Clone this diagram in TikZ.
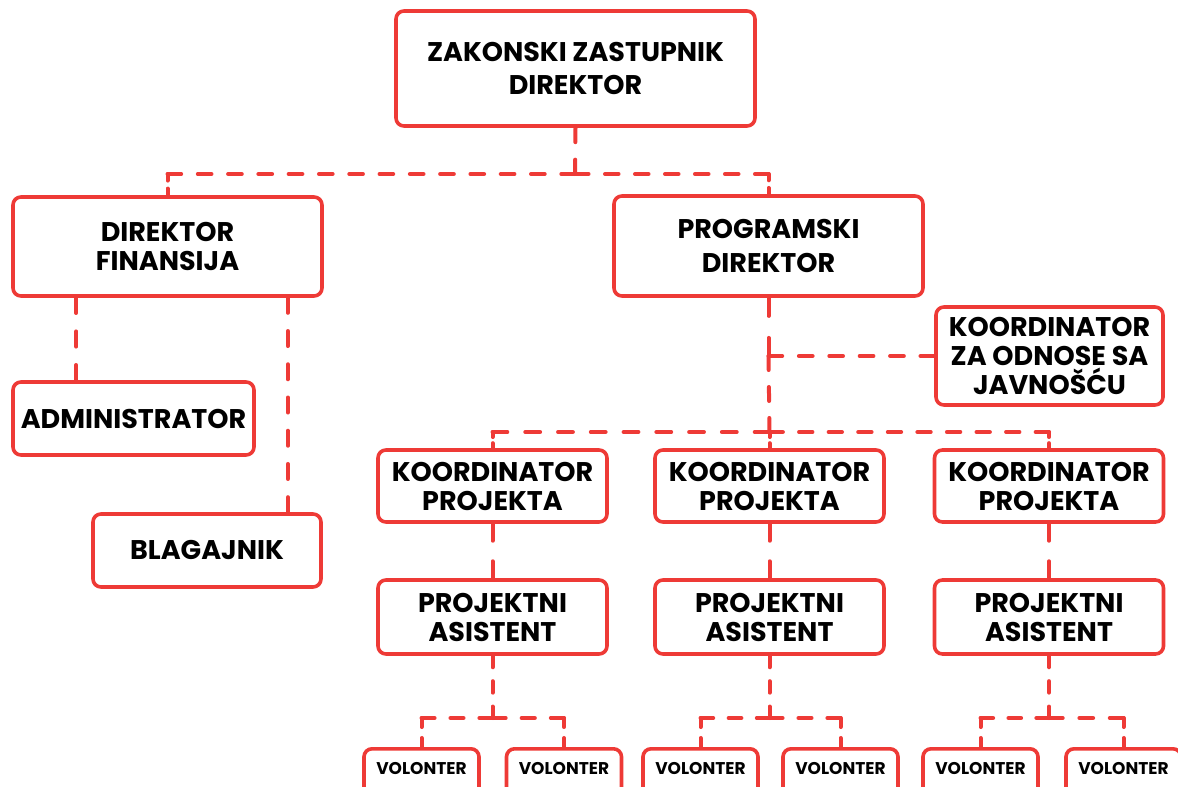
\documentclass[tikz,border=0pt]{standalone}
\usepackage{fontspec}
\setmainfont{Poppins}
\usetikzlibrary{calc}
\definecolor{orgred}{RGB}{238,58,54}
\newcommand\cseg[2]{%
  \draw[conn] let \p1=($(#2)-(#1)$), \n1={veclen(\x1,\y1)},
    \n2={max(2,round((\n1+17)/31))},
    \n3={\n1/(\n2+(\n2-1)*17/14)}, \n4={\n3*17/14}
    in [dash pattern=on \n3 off \n4] (#1) -- (#2);}
\begin{document}
\begin{tikzpicture}[x=1pt,y=-1pt,
  box/.style={draw=orgred,line width=3.6pt,rounded corners=8pt,inner sep=0pt,align=center,
    font=\fontsize{27}{29}\selectfont\bfseries,text=black},
  volbox/.style={draw=orgred,line width=3.6pt,rounded corners=8pt,inner sep=0pt,anchor=north,
    minimum width=115pt,text height=26pt,text depth=50pt,font=\fontsize{17}{19}\selectfont\bfseries,text=black},
  conn/.style={draw=orgred,line width=4pt,line cap=round,line join=round}]
\useasboundingbox (0,0) rectangle (1178,787);
\clip (0,0) rectangle (1178,787);
% boxes
\node[box,minimum width=359pt,minimum height=115pt,font=\fontsize{27}{33}\selectfont\bfseries] (top) at (575.5,68.5) {ZAKONSKI ZASTUPNIK\\DIREKTOR};
\node[box,minimum width=309pt,minimum height=99pt] (dfin) at (167.5,246.5) {DIREKTOR\\FINANSIJA};
\node[box,minimum width=241pt,minimum height=73pt] (admin) at (133.5,418.5) {ADMINISTRATOR};
\node[box,minimum width=228pt,minimum height=73pt] (blag) at (207,550.5) {BLAGAJNIK};
\node[box,minimum width=309pt,minimum height=100pt,font=\fontsize{27}{34}\selectfont\bfseries] (prog) at (768.5,246) {PROGRAMSKI\\DIREKTOR};
\node[box,minimum width=227pt,minimum height=98pt] (kjav) at (1049.5,356) {KOORDINATOR\\ZA ODNOSE SA\\JAVNOŠĆU};
\node[box,minimum width=229pt,minimum height=72pt] (kp1) at (492.5,486) {KOORDINATOR\\PROJEKTA};
\node[box,minimum width=229pt,minimum height=72pt] (kp2) at (769.5,486) {KOORDINATOR\\PROJEKTA};
\node[box,minimum width=229pt,minimum height=72pt] (kp3) at (1049,486) {KOORDINATOR\\PROJEKTA};
\node[box,minimum width=229pt,minimum height=74pt] (pa1) at (492.5,617) {PROJEKTNI\\ASISTENT};
\node[box,minimum width=229pt,minimum height=74pt] (pa2) at (769.5,617) {PROJEKTNI\\ASISTENT};
\node[box,minimum width=229pt,minimum height=74pt] (pa3) at (1049,617) {PROJEKTNI\\ASISTENT};
\node[volbox] (v1) at (421.5,747) {VOLONTER};
\node[volbox] (v2) at (564,747) {VOLONTER};
\node[volbox] (v3) at (700.5,747) {VOLONTER};
\node[volbox] (v4) at (840.5,747) {VOLONTER};
\node[volbox] (v5) at (980.5,747) {VOLONTER};
\node[volbox] (v6) at (1123.5,747) {VOLONTER};
% junctions and corners
\coordinate (j1) at (575,174);
\coordinate (c1L) at (dfin.north |- j1);
\coordinate (c1R) at (prog.north |- j1);
\coordinate (a1) at ([xshift=65pt]admin.north west);
\coordinate (a2) at (a1 |- dfin.south);
\coordinate (b1) at ([xshift=-35pt]blag.north east);
\coordinate (b2) at (b1 |- dfin.south);
\coordinate (jp) at (kjav.west -| prog.south);
\coordinate (j2) at (kp2.north |- 0,432);
\coordinate (c2L) at (kp1.north |- j2);
\coordinate (c2R) at (kp3.north |- j2);
\coordinate (k1) at (pa1.south |- 0,718);
\coordinate (k2) at (pa2.south |- 0,718);
\coordinate (k3) at (pa3.south |- 0,718);
\coordinate (q1) at (v1.north |- k1);
\coordinate (q2) at (v2.north |- k1);
\coordinate (q3) at (v3.north |- k2);
\coordinate (q4) at (v4.north |- k2);
\coordinate (q5) at (v5.north |- k3);
\coordinate (q6) at (v6.north |- k3);
% connectors
\cseg{top.south}{j1}
\cseg{c1L}{j1}
\cseg{j1}{c1R}
\cseg{c1L}{dfin.north}
\cseg{c1R}{prog.north}
\cseg{a2}{a1}
\cseg{b2}{b1}
\cseg{prog.south}{jp}
\cseg{jp}{j2}
\cseg{j2}{kp2.north}
\cseg{kjav.west}{jp}
\cseg{c2L}{j2}
\cseg{j2}{c2R}
\cseg{c2L}{kp1.north}
\cseg{c2R}{kp3.north}
\cseg{kp1.south}{pa1.north}
\cseg{kp2.south}{pa2.north}
\cseg{kp3.south}{pa3.north}
\cseg{pa1.south}{k1}
\cseg{pa2.south}{k2}
\cseg{pa3.south}{k3}
\cseg{q1}{k1}\cseg{k1}{q2}\cseg{q1}{v1.north}\cseg{q2}{v2.north}
\cseg{q3}{k2}\cseg{k2}{q4}\cseg{q3}{v3.north}\cseg{q4}{v4.north}
\cseg{q5}{k3}\cseg{k3}{q6}\cseg{q5}{v5.north}\cseg{q6}{v6.north}
\end{tikzpicture}
\end{document}
